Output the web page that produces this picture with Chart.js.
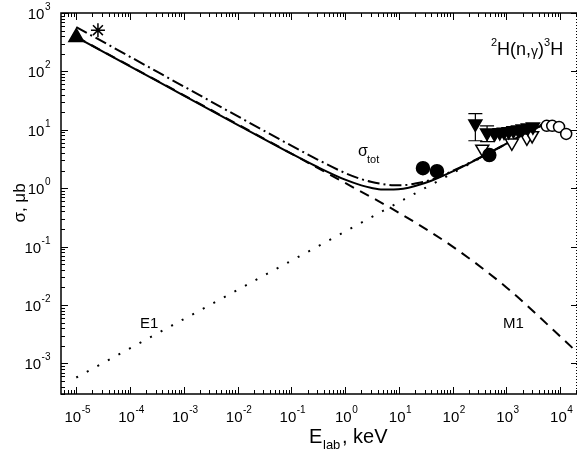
<!DOCTYPE html>
<html>
<head>
<meta charset="utf-8">
<script src="https://cdn.jsdelivr.net/npm/chart.js@4.4.0/dist/chart.umd.min.js"></script>
<style>
  body { margin: 0; background: #fff; }
  canvas { display: block; }
</style>
</head>
<body>
<canvas id="myChart" width="587" height="452"></canvas>
<script>
// energies (keV) of the calculated curves
const curveE = [1e-5, 1e-4, 1e-3, 1e-2, 0.1, 0.3, 1, 2, 3, 5, 8, 12, 20, 40, 100, 300, 1000, 3000, 5000];
// total cross section, solid
const totalSigma = [385, 122, 38.5, 12.2, 3.9, 2.33, 1.4, 1.12, 1.02, 0.95, 0.95, 0.98, 1.09, 1.34, 1.94, 3.22, 5.79, 10.0, 12.3];
// total cross section, second variant (dash-dot)
const altSigma = [575, 178, 55.2, 17.1, 5.36, 3.13, 1.82, 1.43, 1.29, 1.18, 1.13, 1.13, 1.2, 1.4, 1.98, 3.24, 5.8, 10.0, 12.3];
// E1 part (dashed)
const e1E = [1e-5, 1, 10, 100, 1000, 2e4];
const e1Sigma = [390, 1.23, 0.38, 0.1, 0.02, 0.0016];
// M1 part (dotted)
const m1E = [1e-5, 10, 5000];
const m1Sigma = [5.75e-4, 0.575, 12.9];

// experimental points
const triUpE = [1e-5];
const triUpSigma = [385];
const starE = [2.53e-5];
const starSigma = [508];
const dotE = [28, 51, 480];
const dotSigma = [2.2, 1.96, 3.7];
const triDownE = [264, 436, 600, 750, 900, 1100, 1350, 1650, 2000, 2500, 3100];
const triDownSigma = [12.7, 8.9, 8.6, 9.0, 9.2, 9.4, 9.7, 10.0, 10.4, 10.9, 11.3];
const errE = [264, 436];
const errLow = [6.5, 6.3];
const errHigh = [18.9, 11.7];
const triOpenE = [355, 1260, 2400, 3000];
const triOpenSigma = [4.7, 6.0, 7.3, 8.0];
const ringE = [5600, 7100, 9500, 12900];
const ringSigma = [11.7, 11.7, 11.2, 8.5];

// decade labels
const xDecades = [-5, -4, -3, -2, -1, 0, 1, 2, 3, 4];
const yDecades = [-3, -2, -1, 0, 1, 2, 3];

const FONT = '"Liberation Sans", Arial, sans-serif';

function pts(xs, ys) {
    return xs.map((v, i) => ({x: v, y: ys[i]}));
}

function markers(label, xs, ys, style, fill, radius, rotation) {
    return {
        label: label,
        data: pts(xs, ys),
        pointStyle: style,
        pointRadius: radius,
        rotation: rotation || 0,
        backgroundColor: fill ? '#000' : '#fff',
        borderColor: '#000',
        borderWidth: 1.5,
        showLine: false
    };
}

function curve(label, xs, ys, dash, width) {
    return {
        label: label,
        data: pts(xs, ys),
        showLine: true,
        borderColor: '#000',
        borderWidth: width,
        borderDash: dash,
        pointRadius: 0,
        tension: 0.35,
        cubicInterpolationMode: 'monotone',
        fill: false
    };
}

// draws "10" with a raised exponent
function power(ctx, exp, x, y, align) {
    const base = '10';
    ctx.font = '15px ' + FONT;
    const wb = ctx.measureText(base).width;
    ctx.font = '10px ' + FONT;
    const we = ctx.measureText(exp).width;
    let left = x;
    if (align === 'center') left = x - (wb + we) / 2;
    if (align === 'right') left = x - wb - we;
    ctx.textAlign = 'left';
    ctx.font = '15px ' + FONT;
    ctx.fillText(base, left, y);
    ctx.font = '10px ' + FONT;
    ctx.fillText(exp, left + wb + 0.5, y - 9);
}

const frame = {
    id: 'frame',
    afterDatasetsDraw(chart) {
        const {ctx, scales: {x, y}} = chart;
        ctx.save();
        ctx.strokeStyle = '#000';
        ctx.lineWidth = 1.2;
        errE.forEach((e, i) => {
            const px = x.getPixelForValue(e);
            const lo = y.getPixelForValue(errLow[i]);
            const hi = y.getPixelForValue(errHigh[i]);
            ctx.beginPath();
            ctx.moveTo(px, lo); ctx.lineTo(px, hi);
            ctx.moveTo(px - 7, lo); ctx.lineTo(px + 7, lo);
            ctx.moveTo(px - 7, hi); ctx.lineTo(px + 7, hi);
            ctx.stroke();
        });
        ctx.restore();
    },
    afterDraw(chart) {
        const {ctx, chartArea: a, scales: {x, y}} = chart;
        ctx.save();
        ctx.strokeStyle = '#000';
        ctx.fillStyle = '#000';
        ctx.lineWidth = 1.5;
        ctx.beginPath();
        ctx.moveTo(a.right, a.top); ctx.lineTo(a.left, a.top);
        ctx.lineTo(a.left, a.bottom); ctx.lineTo(a.right, a.bottom);
        ctx.stroke();
        // right side
        ctx.lineWidth = 1;
        ctx.setLineDash([1, 2]);
        ctx.beginPath();
        ctx.moveTo(a.right - 0.5, a.top); ctx.lineTo(a.right - 0.5, a.bottom);
        ctx.stroke();
        ctx.setLineDash([]);

        // tick marks, pointing inward
        ctx.lineWidth = 1;
        ctx.beginPath();
        for (let d = -6; d <= 4; d++) {
            for (let m = 1; m <= 9; m++) {
                const v = m * Math.pow(10, d);
                if (v >= x.min && v <= x.max) {
                    const px = Math.round(x.getPixelForValue(v)) + 0.5;
                    const len = m === 1 ? 7 : 4;
                    ctx.moveTo(px, a.bottom); ctx.lineTo(px, a.bottom - len);
                    ctx.moveTo(px, a.top); ctx.lineTo(px, a.top + len);
                }
                if (v >= y.min && v <= y.max) {
                    const py = Math.round(y.getPixelForValue(v)) + 0.5;
                    const len = m === 1 ? 7 : 4;
                    ctx.moveTo(a.left, py); ctx.lineTo(a.left + len, py);
                    if (m === 1) { ctx.moveTo(a.right, py); ctx.lineTo(a.right - 6, py); }
                }
            }
        }
        ctx.stroke();

        // tick labels
        ctx.textBaseline = 'alphabetic';
        xDecades.forEach(d => {
            power(ctx, String(d), x.getPixelForValue(Math.pow(10, d)) + 1, 422, 'center');
        });
        yDecades.forEach(d => {
            power(ctx, String(d), 50, y.getPixelForValue(Math.pow(10, d)) + 6, 'right');
        });

        // axis titles
        ctx.save();
        ctx.translate(25, 203);
        ctx.rotate(-Math.PI / 2);
        ctx.textAlign = 'center';
        ctx.font = '17px ' + FONT;
        ctx.fillText('σ, μb', 0, 0);
        ctx.restore();

        ctx.textAlign = 'left';
        ctx.font = '20px ' + FONT;
        ctx.fillText('E', 309, 443);
        ctx.font = '13px ' + FONT;
        ctx.fillText('lab', 323, 449);
        ctx.font = '20px ' + FONT;
        ctx.fillText(', keV', 342, 443);

        // reaction
        let cx = 491;
        ctx.font = '11px ' + FONT;
        ctx.fillText('2', cx, 46);
        cx += ctx.measureText('2').width;
        ctx.font = '18px ' + FONT;
        ctx.fillText('H(n,', cx, 55);
        cx += ctx.measureText('H(n,').width;
        ctx.font = '14px ' + FONT;
        ctx.fillText('γ', cx, 56);
        cx += ctx.measureText('γ').width;
        ctx.font = '18px ' + FONT;
        ctx.fillText(')', cx, 55);
        cx += ctx.measureText(')').width;
        ctx.font = '11px ' + FONT;
        ctx.fillText('3', cx, 46);
        cx += ctx.measureText('3').width;
        ctx.font = '18px ' + FONT;
        ctx.fillText('H', cx, 55);

        // curve labels
        ctx.font = '16px ' + FONT;
        ctx.fillText('σ', 358, 156);
        ctx.font = '11px ' + FONT;
        ctx.fillText('tot', 367, 163);
        ctx.font = '15px ' + FONT;
        ctx.fillText('E1', 140, 328);
        ctx.fillText('M1', 503, 328);
        ctx.restore();
    }
};

const context = document.getElementById('myChart').getContext('2d');
const myChart = new Chart(context, {
    type: 'scatter',
    data: {
        datasets: [
            markers('triangle', triUpE, triUpSigma, 'triangle', true, 8.5, 0),
            markers('star', starE, starSigma, 'star', false, 7, 0),
            markers('circles', dotE, dotSigma, 'circle', true, 6.5, 0),
            markers('open circles', ringE, ringSigma, 'circle', false, 5.5, 0),
            markers('triangles down', triDownE, triDownSigma, 'triangle', true, 7.5, 180),
            markers('open triangles', triOpenE, triOpenSigma, 'triangle', false, 7.5, 180),
            curve('total', curveE, totalSigma, [], 2),
            curve('total 2', curveE, altSigma, [12, 4, 2, 4], 2),
            curve('E1', e1E, e1Sigma, [10, 7], 2),
            curve('M1', m1E, m1Sigma, [2, 10], 2)
        ]
    },
    options: {
        responsive: false,
        animation: false,
        layout: {
            padding: {left: 61, top: 13, right: 4, bottom: 58}
        },
        plugins: {
            legend: {display: false},
            tooltip: {enabled: false}
        },
        scales: {
            x: {
                type: 'logarithmic',
                min: 5.2e-6,
                max: 2.05e4,
                display: false
            },
            y: {
                type: 'logarithmic',
                min: 3.3e-4,
                max: 1000,
                display: false
            }
        }
    },
    plugins: [frame]
});
</script>
</body>
</html>
